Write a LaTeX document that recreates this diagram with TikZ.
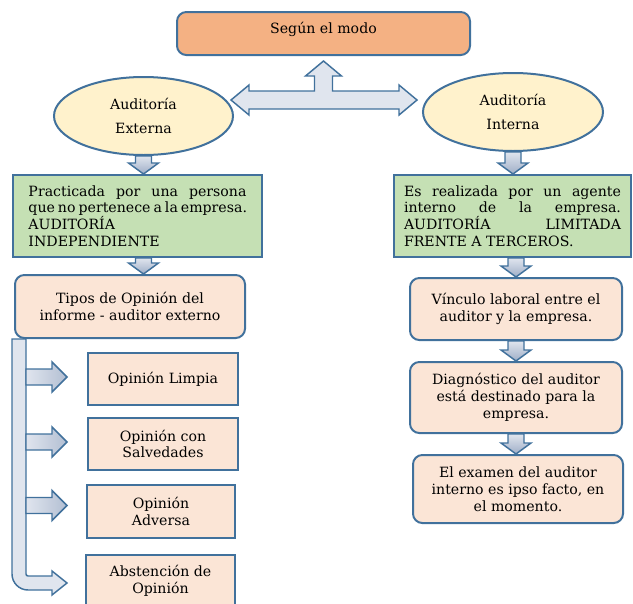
\documentclass[tikz,border=0pt]{standalone}
\usepackage{fontspec}
\setmainfont{DejaVu Serif}
\usetikzlibrary{calc,shapes.geometric}

\definecolor{edge}{HTML}{41719C}
\definecolor{orangefill}{HTML}{F4B183}
\definecolor{creamfill}{HTML}{FFF2CC}
\definecolor{greenfill}{HTML}{C5E0B4}
\definecolor{peachfill}{HTML}{FBE5D6}
\definecolor{arrowlight}{HTML}{E0E5EE}
\definecolor{arrowdark}{HTML}{9FAEC7}

\tikzset{
  every node/.style={font=\fontsize{10.6}{12.6}\selectfont, text=black},
  boxsize/.style 2 args={minimum width=#1*0.75pt, minimum height=#2*0.75pt, inner sep=0pt},
  plainbox/.style={draw=edge, line width=1.5pt, rectangle},
  roundbox/.style={plainbox, rounded corners=7pt},
  ovalbox/.style={ellipse, draw=edge, line width=1.5pt, fill=creamfill, align=center},
  blockarrow/.style={draw=edge, line width=1.1pt, line join=miter},
}

% vertical block arrow pointing down, from #1 to the level of #2
\newcommand\downblock[2]{%
  \path[blockarrow, top color=arrowlight, bottom color=arrowdark]
    let \p1=(#1), \p2=(#2) in
    (\x1-6pt,\y1) -- (\x1+6pt,\y1) -- (\x1+6pt,\y2+8.25pt) -- (\x1+11.25pt,\y2+8.25pt)
    -- (\x1,\y2) -- (\x1-11.25pt,\y2+8.25pt) -- (\x1-6pt,\y2+8.25pt) -- cycle;}

% horizontal block arrow pointing right, from the bar edge #1 to the tip #2
\newcommand\rightblock[2]{%
  \path[blockarrow, left color=arrowlight, right color=arrowdark!80!white]
    let \p1=(#1), \p2=(#2) in
    (\x1,\y2+6pt) -- (\x2-11.25pt,\y2+6pt) -- (\x2-11.25pt,\y2+11.25pt) -- (\x2,\y2)
    -- (\x2-11.25pt,\y2-11.25pt) -- (\x2-11.25pt,\y2-6pt) -- (\x1,\y2-6pt) -- cycle;}

\begin{document}
\begin{tikzpicture}[x=0.75pt, y=-0.75pt]
\useasboundingbox (0,0) rectangle (633,604);

% ---------- nodes ----------
\node[roundbox, fill=orangefill, boxsize={293}{43}] (top) at (323.5,33.5)
  {\raisebox{3pt}[\height][\depth]{Según el modo}};

\node[ovalbox, boxsize={179}{78}] (ext) at (143.5,116) {Auditoría\\[6pt]Externa};
\node[ovalbox, boxsize={180}{78}] (int) at (513,112) {Auditoría\\[6pt]Interna};

\node[plainbox, fill=greenfill, boxsize={249}{82}, align=left] (g1) at (137.5,216)
  {\makebox[163.5pt][s]{Practicada por una persona}\\
   \makebox[163.5pt][s]{que no pertenece a la empresa.}\\
   AUDITORÍA\\
   INDEPENDIENTE};

\node[plainbox, fill=greenfill, boxsize={237}{82}, align=left] (g2) at (512.5,216)
  {\makebox[162.75pt][s]{Es realizada por un agente}\\
   \makebox[162.75pt][s]{interno de la empresa.}\\
   \makebox[162.75pt][s]{AUDITORÍA LIMITADA}\\
   FRENTE A TERCEROS.};

\node[roundbox, fill=peachfill, boxsize={230}{63}, align=center] (tipos) at (130,306.5)
  {Tipos de Opinión del\\informe - auditor externo};

\node[plainbox, fill=peachfill, boxsize={150}{52}] (o1) at (163,379) {Opinión Limpia};
\node[plainbox, fill=peachfill, boxsize={150}{52}, align=center] (o2) at (163,444)
  {Opinión con\\Salvedades};
\node[plainbox, fill=peachfill, boxsize={148}{53}, align=center] (o3) at (161,511.5)
  {Opinión\\Adversa};
\node[plainbox, fill=peachfill, boxsize={149}{52}, align=center] (o4) at (160.5,581)
  {Abstención de\\Opinión};

\node[roundbox, fill=peachfill, boxsize={212}{62}, align=center] (vin) at (516,309)
  {Vínculo laboral entre el\\auditor y la empresa.};
\node[roundbox, fill=peachfill, boxsize={212}{71}, align=center] (diag) at (516,397.5)
  {Diagnóstico del auditor\\está destinado para la\\empresa.};
\node[roundbox, fill=peachfill, boxsize={210}{68}, align=center] (exam) at (518,489)
  {El examen del auditor\\interno es ipso facto, en\\el momento.};

% ---------- three-way block arrow under the title ----------
\coordinate (upTip) at ($(top.south)+(0,5)$);
\coordinate (lTip)  at ($(ext.east)+(-3,-16)$);
\coordinate (rTip)  at ($(lTip -| int.west)+(-5,0)$);
\path[blockarrow, left color=arrowlight, middle color=arrowdark, right color=arrowlight]
  let \p1=(lTip), \p2=(rTip), \p3=(upTip) in
  (\x1,\y1) -- (\x1+13.5pt,\y1+11.25pt) -- (\x1+13.5pt,\y1+6.75pt)
  -- (\x3-6.75pt,\y1+6.75pt) -- (\x3-6.75pt,\y3-11.25pt) -- (\x3-13.5pt,\y3-11.25pt)
  -- (\x3,\y3) -- (\x3+13.5pt,\y3-11.25pt) -- (\x3+6.75pt,\y3-11.25pt)
  -- (\x3+6.75pt,\y1+6.75pt) -- (\x2-13.5pt,\y1+6.75pt) -- (\x2-13.5pt,\y1+11.25pt)
  -- (\x2,\y1) -- (\x2-13.5pt,\y1-11.25pt) -- (\x2-13.5pt,\y1-6.75pt)
  -- (\x1+13.5pt,\y1-6.75pt) -- (\x1+13.5pt,\y1-11.25pt) -- cycle;

% ---------- down arrows ----------
\downblock{ext.south}{ext.south |- g1.north}
\downblock{ext.south |- g1.south}{ext.south |- tipos.north}
\downblock{int.south}{int.south |- g2.north}
\downblock{vin.north |- g2.south}{vin.north}
\downblock{vin.south}{vin.south |- diag.north}
\downblock{diag.south}{diag.south |- exam.north}

% ---------- bent bar with the opinion branches ----------
\coordinate (barL) at ($(tipos.south west)+(-2,0)$);
\coordinate (barR) at ($(tipos.south west)+(12,0)$);
\coordinate (bendTip) at ($(o4.west)+(-18,2)$);
\path[blockarrow, top color=arrowlight, middle color=arrowdark!85!white, bottom color=arrowlight]
  let \p1=(barL), \p2=(barR), \p3=(bendTip) in
  (\x1,\y1) -- (\x1,\y3+6.75pt)
  .. controls (\x1,\y3+0.15pt) and (\x1+5.35pt,\y3-5.25pt) .. (\x1+12pt,\y3-5.25pt)
  -- (\x3-11.25pt,\y3-5.25pt) -- (\x3-11.25pt,\y3-9pt) -- (\x3,\y3)
  -- (\x3-11.25pt,\y3+9pt) -- (\x3-11.25pt,\y3+5.25pt) -- (\x2+1.5pt,\y3+5.25pt)
  .. controls (\x2+0.7pt,\y3+5.25pt) and (\x2,\y3+6pt) .. (\x2,\y3+6.75pt)
  -- (\x2,\y1) -- cycle;

\rightblock{barR}{$(o1.west)+(-20,-2)$}
\rightblock{barR}{$(o2.west)+(-20,-2)$}
\rightblock{barR}{$(o3.west)+(-19,-6)$}

\end{tikzpicture}
\end{document}
